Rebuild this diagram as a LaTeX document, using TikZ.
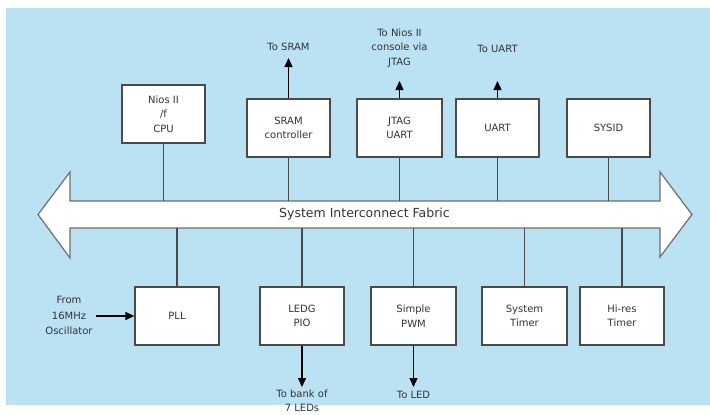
\documentclass[tikz,border=0pt]{standalone}
\usepackage{fontspec}
\setmainfont{DejaVu Sans}
\usetikzlibrary{arrows.meta}
\definecolor{bgblue}{HTML}{BAE2F2}
\definecolor{ln}{HTML}{4A4A4A}
\definecolor{tx}{HTML}{333333}
\tikzset{
  blk/.style={draw=ln, line width=1.3pt, fill=white, minimum height=58pt, inner sep=0pt, align=center, font=\fontsize{10}{14.5}\selectfont, text=tx},
  lbl/.style={align=center, font=\fontsize{10}{14.5}\selectfont, text=tx, inner sep=0pt},
  conn/.style={draw=ln, line width=1.3pt},
  arr/.style={draw=black, line width=1.3pt, -{Triangle[width=8pt,length=9pt]}}
}
\begin{document}
\begin{tikzpicture}[x=1pt,y=-1pt]
\useasboundingbox (0,0) rectangle (710,415);
\fill[white] (0,0) rectangle (710,415);
\fill[bgblue] (6,8) rectangle (710,405);
% bus
\draw[draw=ln!80, line width=1.2pt, fill=white] (70,201) -- (660,201) -- (660,172) -- (692,214.5) -- (660,257) -- (660,228) -- (70,228) -- (70,258) -- (38,214.5) -- (70,172) -- cycle;
\node[font=\fontsize{12.5}{14}\selectfont, text=tx, inner sep=0pt] (bus) at (364.5,214.5) {System Interconnect Fabric};
\coordinate (bustop) at (0,201);
\coordinate (busbot) at (0,228);
% top boxes
\node[blk, minimum width=83pt] (nios) at (163.5,114) {Nios II\\/f\\CPU};
\node[blk, minimum width=83pt] (sram) at (288.5,128) {SRAM\\controller};
\node[blk, minimum width=85pt] (jtag) at (399.5,128) {JTAG\\UART};
\node[blk, minimum width=83pt] (uart) at (497.5,128) {UART};
\node[blk, minimum width=83pt] (sysid) at (608.5,128) {SYSID};
% bottom boxes
\node[blk, minimum width=84pt] (pll) at (177,316) {PLL};
\node[blk, minimum width=84pt] (ledg) at (302,316) {LEDG\\PIO};
\node[blk, minimum width=85pt] (pwm) at (413.5,316) {Simple\\PWM};
\node[blk, minimum width=85pt] (systimer) at (524.5,316) {System\\Timer};
\node[blk, minimum width=84pt] (hires) at (622,316) {Hi-res\\Timer};
% connections to bus
\foreach \n in {nios,sram,jtag,uart,sysid}
  \draw[conn] (\n.south) -- (\n.south |- bustop);
\foreach \n in {pll,ledg,pwm,systimer,hires}
  \draw[conn] (\n.north) -- (\n.north |- busbot);
% external labels and arrows
\node[lbl] (tosram) at (288.5,47) {To SRAM};
\coordinate (tsram) at (288.5,58);
\draw[arr] (sram.north) -- (tsram);
\node[lbl] (tojtag) at (399.5,48) {To Nios II\\console via\\JTAG};
\coordinate (tjtag) at (399.5,81);
\draw[arr] (jtag.north) -- (tjtag);
\node[lbl] (touart) at (497.5,49) {To UART};
\coordinate (tuart) at (497.5,81);
\draw[arr] (uart.north) -- (tuart);
\node[lbl] (toleds) at (302,401) {To bank of\\7 LEDs};
\coordinate (tleds) at (302,387);
\draw[arr] (ledg.south) -- (tleds);
\node[lbl] (toled) at (413.5,394.5) {To LED};
\coordinate (tled) at (413.5,387);
\draw[arr] (pwm.south) -- (tled);
\node[lbl, font=\fontsize{10}{15.5}\selectfont] (osc) at (69,315.5) {From\\16MHz\\Oscillator};
\coordinate (fosc) at (96,316);
\draw[arr] (fosc) -- (pll.west);
\end{tikzpicture}
\end{document}
